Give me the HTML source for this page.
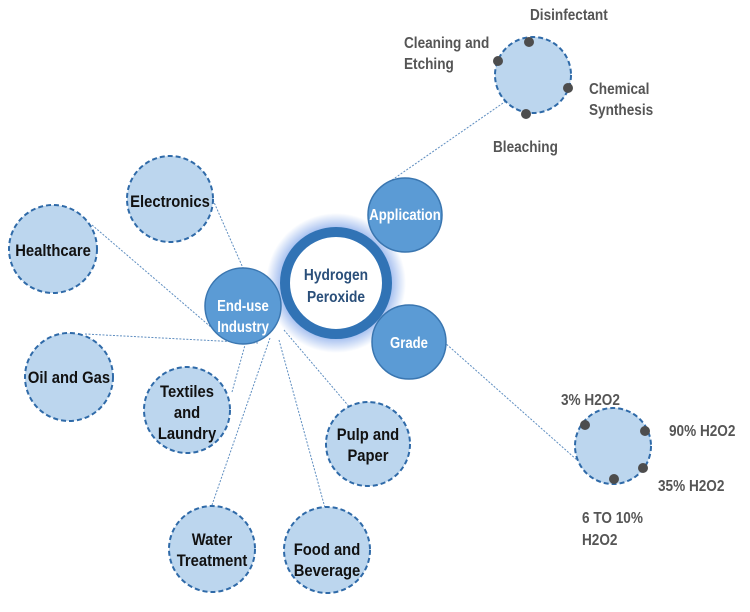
<!DOCTYPE html>
<html><head><meta charset="utf-8"><style>
html,body{margin:0;padding:0;background:#fff;}
svg text{font-family:"Liberation Sans",sans-serif;font-size:16px;font-weight:bold;transform-box:fill-box;}
.d{fill:#111;text-anchor:middle;transform-origin:center;transform:scaleX(.87);font-size:17px;}
.h{fill:#2a4f7a;text-anchor:middle;transform-origin:center;transform:scaleX(.86);font-size:16px;}
.g{fill:#555;transform-origin:left;transform:scaleX(.85);}
.w{fill:#fff;text-anchor:middle;transform-origin:center;transform:scaleX(.82);}
</style></head><body>
<svg width="750" height="607" viewBox="0 0 750 607" xmlns="http://www.w3.org/2000/svg">
<defs>
<radialGradient id="glow" cx="50%" cy="50%" r="50%">
<stop offset="70%" stop-color="#4a7fe0" stop-opacity="0.7"/>
<stop offset="100%" stop-color="#4a7fe0" stop-opacity="0"/>
</radialGradient>
</defs>
<g stroke="#5f8ec0" stroke-width="1" stroke-dasharray="2,1.5" fill="none">
<line x1="213" y1="200" x2="243" y2="268"/>
<line x1="92" y1="225" x2="212" y2="328"/>
<line x1="85" y1="334" x2="258" y2="343"/>
<line x1="232" y1="392" x2="245" y2="345"/>
<line x1="270" y1="338" x2="212" y2="505"/>
<line x1="284" y1="330" x2="352" y2="410"/>
<line x1="279" y1="340" x2="325" y2="508"/>
<line x1="392" y1="180" x2="506" y2="101"/>
<line x1="444" y1="342" x2="577" y2="460"/>
</g>
<g fill="#bcd6ee" stroke="#2f6aa8" stroke-width="2" stroke-dasharray="5,3">
<circle cx="170" cy="199" r="43"/>
<circle cx="53" cy="249" r="44"/>
<circle cx="69" cy="377" r="44"/>
<circle cx="187" cy="410" r="43"/>
<circle cx="368" cy="444" r="42"/>
<circle cx="212" cy="549" r="43"/>
<circle cx="327" cy="550" r="43"/>
<circle cx="533" cy="75" r="38"/>
<circle cx="613" cy="446" r="38"/>
</g>
<g fill="#4d4d4d">
<circle cx="529" cy="42" r="5"/><circle cx="498" cy="61" r="5"/><circle cx="568" cy="88" r="5"/><circle cx="526" cy="114" r="5"/>
<circle cx="585" cy="425" r="5"/><circle cx="645" cy="431" r="5"/><circle cx="643" cy="468" r="5"/><circle cx="614" cy="479" r="5"/>
</g>
<circle cx="336" cy="283" r="70" fill="url(#glow)"/>
<circle cx="336" cy="283" r="51" fill="#fff" stroke="#3173b5" stroke-width="10"/>
<g fill="#5b9bd5" stroke="#3a76b0" stroke-width="1.5">
<circle cx="405" cy="215" r="37"/>
<circle cx="409" cy="342" r="37"/>
<circle cx="243" cy="306" r="38"/>
</g>
<text x="336" y="280" class="h">Hydrogen</text>
<text x="336" y="302" class="h">Peroxide</text>
<text x="405" y="220" class="w">Application</text>
<text x="409" y="348" class="w">Grade</text>
<text x="243" y="311" class="w">End-use</text>
<text x="243" y="332" class="w">Industry</text>
<text x="170" y="207" class="d">Electronics</text>
<text x="53" y="256" class="d">Healthcare</text>
<text x="69" y="383" class="d">Oil and Gas</text>
<text x="187" y="397" class="d">Textiles</text>
<text x="187" y="418" class="d">and</text>
<text x="187" y="439" class="d">Laundry</text>
<text x="368" y="440" class="d">Pulp and</text>
<text x="368" y="461" class="d">Paper</text>
<text x="212" y="545" class="d">Water</text>
<text x="212" y="566" class="d">Treatment</text>
<text x="327" y="555" class="d">Food and</text>
<text x="327" y="576" class="d">Beverage</text>
<text x="530" y="20" class="g">Disinfectant</text>
<text x="404" y="48" class="g">Cleaning and</text>
<text x="404" y="69" class="g">Etching</text>
<text x="589" y="94" class="g">Chemical</text>
<text x="589" y="115" class="g">Synthesis</text>
<text x="493" y="152" class="g">Bleaching</text>
<text x="561" y="405" class="g">3% H2O2</text>
<text x="669" y="436" class="g">90% H2O2</text>
<text x="658" y="491" class="g">35% H2O2</text>
<text x="582" y="523" class="g">6 TO 10%</text>
<text x="582" y="545" class="g">H2O2</text>
</svg>
</body></html>
